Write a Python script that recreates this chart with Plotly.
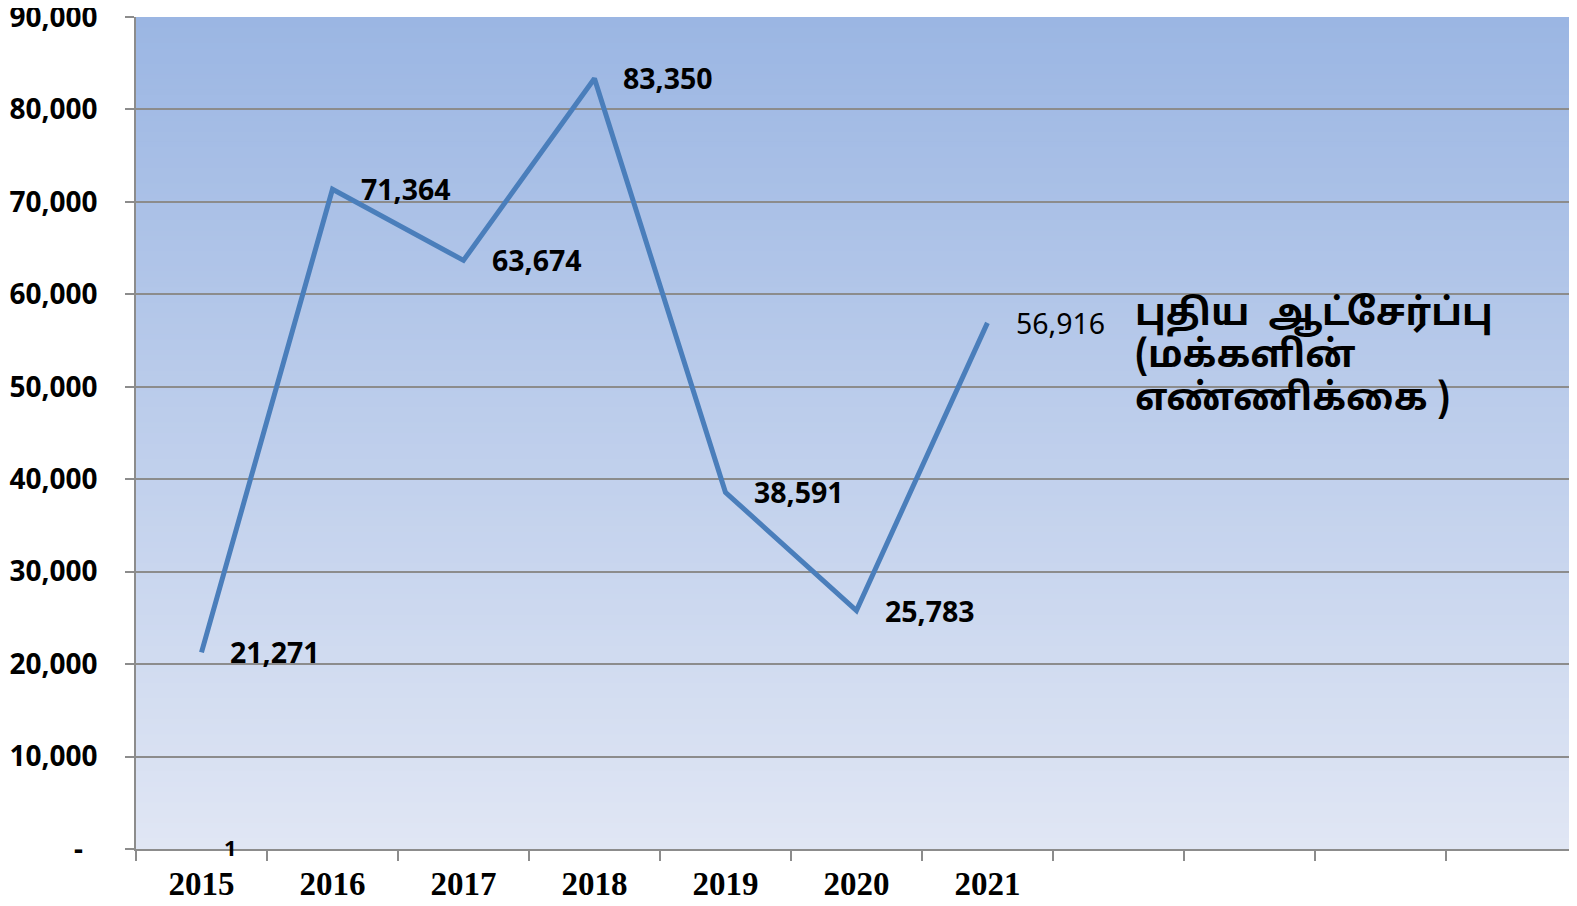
import plotly.graph_objects as go

# chart data
years = ['2015', '2016', '2017', '2018', '2019', '2020', '2021']
recruits = [21271, 71364, 63674, 83350, 38591, 25783, 56916]
point_labels = ['21,271', '71,364', '63,674', '83,350', '38,591', '25,783', '56,916']
label_bold = [True, True, True, True, True, True, False]

# the source chart keeps four empty slots after 2021
empty_slots = [' ' * (i + 1) for i in range(4)]

y_ticks = [0, 10000, 20000, 30000, 40000, 50000, 60000, 70000, 80000, 90000]
y_tick_labels = ['-\u00a0\u00a0', '10,000', '20,000', '30,000', '40,000',
                 '50,000', '60,000', '70,000', '80,000', '90,000']

legend_lines = ['புதிய  ஆட்சேர்ப்பு', '(மக்களின்', 'எண்ணிக்கை )']

line_color = '#4A7EBB'
grid_color = '#8C8C8C'
sans = 'Noto Sans'
tamil = 'Noto Sans Tamil, Noto Sans, Lohit Tamil, sans-serif'
serif = 'Liberation Serif'

fig = go.Figure()

fig.add_trace(
    go.Scatter(
        x=years, y=recruits,
        mode='lines',
        line=dict(color=line_color, width=5),
        showlegend=False,
        hoverinfo='skip',
    )
)

# vertical gradient background, drawn as thin bands behind the grid
top_rgb = (155, 182, 227)
bottom_rgb = (224, 230, 244)
n_bands = 160
for i in range(n_bands):
    t = i / (n_bands - 1)
    r = round(bottom_rgb[0] + (top_rgb[0] - bottom_rgb[0]) * t)
    g = round(bottom_rgb[1] + (top_rgb[1] - bottom_rgb[1]) * t)
    b = round(bottom_rgb[2] + (top_rgb[2] - bottom_rgb[2]) * t)
    fig.add_shape(
        type='rect', xref='paper', yref='paper',
        x0=0, x1=1, y0=i / n_bands, y1=min(1, (i + 1.6) / n_bands),
        fillcolor=f'rgb({r},{g},{b})', line=dict(width=0), layer='below',
    )

# value labels to the right of each point (category axis -> index positions)
for idx, (val, txt, bold) in enumerate(zip(recruits, point_labels, label_bold)):
    fig.add_annotation(
        x=idx, y=val, xref='x', yref='y', text=txt, showarrow=False,
        xanchor='left', yanchor='middle', xshift=27,
        font=dict(family=sans, size=28.5, color='#000000',
                  weight='bold' if bold else 'normal'),
    )

# stray "1" label sitting on the zero line
fig.add_annotation(
    x=0, y=0, xref='x', yref='y', text='1', showarrow=False,
    xanchor='center', yanchor='middle', xshift=29, yshift=2,
    font=dict(family=sans, size=22, color='#000000', weight='bold'),
)

# series name placed as free text on the right
for line_txt, ypos in zip(legend_lines, [0.641, 0.590, 0.539]):
    fig.add_annotation(
        x=0.6955, y=ypos, xref='paper', yref='paper',
        text=line_txt, showarrow=False, align='left',
        xanchor='left', yanchor='middle',
        font=dict(family=tamil, size=37, color='#000000', weight='bold'),
    )

# the page puts the figure 8px in from the top-left corner,
# so the figure is sized to fit the window without scrolling
fig.update_layout(
    width=1561, height=890,
    margin=dict(l=128, r=0, t=9, b=49),
    paper_bgcolor='#FFFFFF',
    plot_bgcolor='rgba(0,0,0,0)',
    showlegend=False,
)

fig.update_xaxes(
    type='category',
    categoryorder='array',
    categoryarray=years + empty_slots,
    range=[-0.5, 10.44],
    tickson='boundaries',
    ticks='outside', ticklen=10, tickwidth=1.5, tickcolor=grid_color,
    showline=True, linecolor=grid_color, linewidth=1.5,
    showgrid=False,
    automargin=False,
    ticklabelstandoff=5,
    ticklabeloverflow='allow',
    tickfont=dict(family=serif, size=33, color='#000000', weight='bold'),
)

fig.update_yaxes(
    range=[0, 90000],
    tickmode='array', tickvals=y_ticks, ticktext=y_tick_labels,
    ticks='outside', ticklen=9, tickwidth=1.5, tickcolor=grid_color,
    showline=True, linecolor=grid_color, linewidth=1.5,
    showgrid=True, gridcolor=grid_color, gridwidth=1.5,
    zeroline=False,
    automargin=False,
    ticklabelstandoff=22,
    ticklabeloverflow='allow',
    tickfont=dict(family=sans, size=28, color='#000000', weight='bold'),
)

fig.write_html('out.html')
